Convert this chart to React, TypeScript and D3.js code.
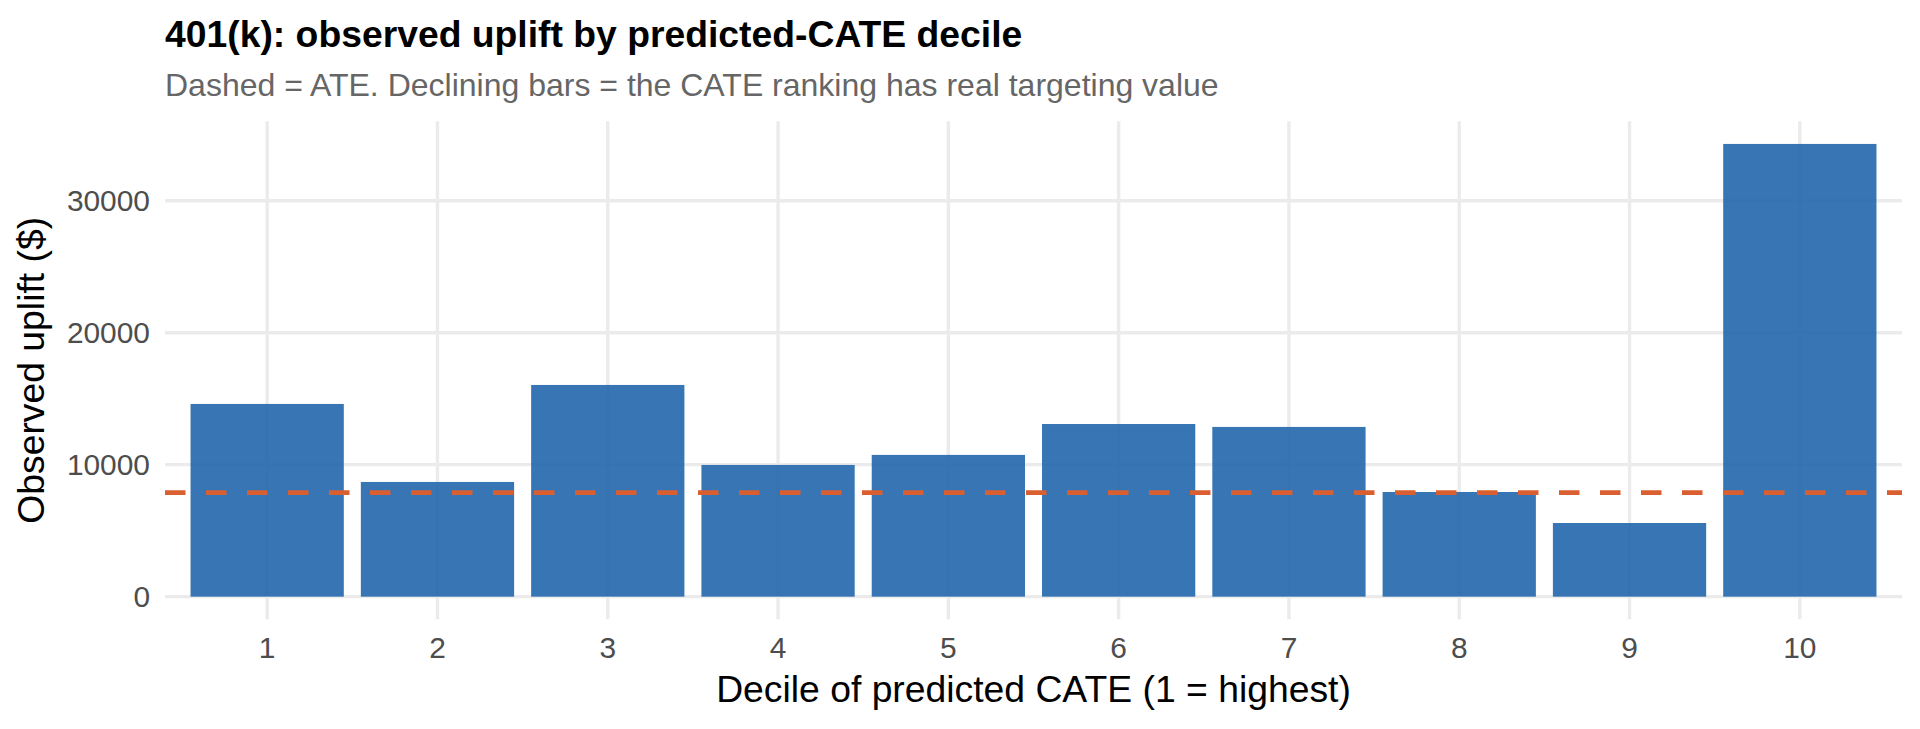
import * as d3 from "d3"

const W = 1920
const H = 729

// deciles of predicted CATE, 1 = highest
const deciles = ["1", "2", "3", "4", "5", "6", "7", "8", "9", "10"]
const uplift = [14600, 8690, 16040, 9980, 10740, 13080, 12860, 7930, 5580, 34300]
const ate = 7880
const yTicks = [0, 10000, 20000, 30000]

const BAR = "#2166AC"
const ATE_COL = "#D95F30"
const GRID = "#EBEBEB"
const FONT = "'Liberation Sans', Arial, Helvetica, sans-serif"

const panel = { left: 165, right: 1902, top: 121.3, bottom: 619.3 }

export default function App() {
  const x = d3
    .scaleBand<string>()
    .domain(deciles)
    .range([panel.left, panel.right])
    .paddingInner(0.1)
    .paddingOuter(0.15)

  const yMax = d3.max(uplift) ?? 0
  const y = d3
    .scaleLinear()
    .domain([-0.05 * yMax, yMax * 1.05])
    .range([panel.bottom, panel.top])

  const cx = (d: string) => (x(d) ?? 0) + x.bandwidth() / 2

  return (
    <svg
      width={W}
      height={H}
      style={{ position: "absolute", left: 0, top: 0, background: "#fff" }}
      fontFamily={FONT}
    >
      <rect width={W} height={H} fill="#fff" />

      {/* grid */}
      {yTicks.map((t) => (
        <line key={"h" + t} x1={panel.left} x2={panel.right} y1={y(t)} y2={y(t)} stroke={GRID} strokeWidth={3.4} />
      ))}
      {deciles.map((d) => (
        <line key={"v" + d} x1={cx(d)} x2={cx(d)} y1={panel.top} y2={panel.bottom} stroke={GRID} strokeWidth={3.4} />
      ))}

      {/* bars */}
      {deciles.map((d, i) => (
        <rect
          key={d}
          x={x(d)}
          y={y(uplift[i])}
          width={x.bandwidth()}
          height={y(0) - y(uplift[i])}
          fill={BAR}
          fillOpacity={0.9}
        />
      ))}

      {/* ATE reference */}
      <line
        x1={panel.left}
        x2={panel.right}
        y1={y(ate)}
        y2={y(ate)}
        stroke={ATE_COL}
        strokeWidth={4.7}
        strokeDasharray="20.5 20.5"
      />

      {/* y tick labels */}
      {yTicks.map((t) => (
        <text key={"yl" + t} x={150} y={y(t) + 10.8} textAnchor="end" fontSize={29.9} fill="#4D4D4D">
          {t}
        </text>
      ))}

      {/* x tick labels */}
      {deciles.map((d) => (
        <text key={"xl" + d} x={cx(d)} y={658} textAnchor="middle" fontSize={29.9} fill="#4D4D4D">
          {d}
        </text>
      ))}

      {/* axis titles */}
      <text x={(panel.left + panel.right) / 2} y={702} textAnchor="middle" fontSize={37.3} fill="#000">
        Decile of predicted CATE (1 = highest)
      </text>
      <text
        transform={`translate(43.5,${(panel.top + panel.bottom) / 2}) rotate(-90)`}
        textAnchor="middle"
        fontSize={37.3}
        fill="#000"
      >
        Observed uplift ($)
      </text>

      {/* title block */}
      <text x={panel.left} y={46.7} fontSize={37.3} fontWeight="bold" fill="#000">
        401(k): observed uplift by predicted-CATE decile
      </text>
      <text x={panel.left} y={96} fontSize={32} fill="#666666">
        Dashed = ATE. Declining bars = the CATE ranking has real targeting value
      </text>
    </svg>
  )
}
